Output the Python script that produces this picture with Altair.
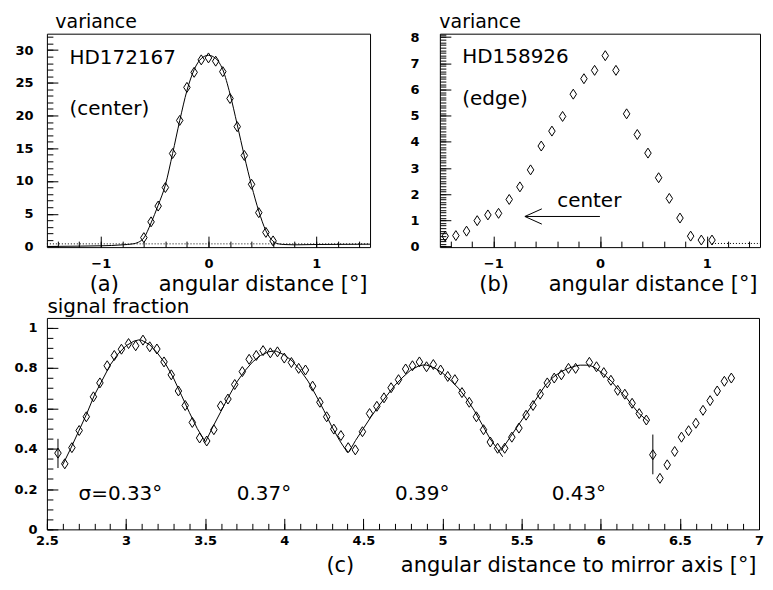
import altair as alt
import pandas as pd

FONT = "DejaVu Sans"

# ---------------- panel (a): HD172167 ----------------
a_x = [-0.600, -0.533, -0.467, -0.400, -0.333, -0.267, -0.200, -0.133, -0.067, 0.000,
       0.067, 0.133, 0.200, 0.267, 0.333, 0.400, 0.467, 0.533, 0.600]
a_y = [1.35, 3.76, 6.17, 9.0, 14.2, 19.25, 24.3, 26.6, 28.5, 28.8,
       28.3, 26.7, 22.6, 18.3, 13.9, 9.5, 5.16, 2.15, 0.85]
a_fit_x = [-1.5, -1.2, -1.0, -0.9, -0.8, -0.7, -0.65, -0.6, -0.533, -0.467, -0.4, -0.333,
           -0.267, -0.2, -0.133, -0.067, 0.0, 0.067, 0.133, 0.2, 0.267, 0.333, 0.4, 0.467,
           0.533, 0.6, 0.65, 0.7, 0.8, 1.0, 1.5]
a_fit_y = [0.0, 0.05, 0.1, 0.15, 0.25, 0.4, 0.65, 1.3, 3.6, 6.3, 9.4, 14.2,
           19.2, 23.8, 27.0, 28.7, 29.2, 28.7, 27.0, 23.3, 18.6, 13.8, 9.3, 5.4,
           2.4, 0.8, 0.4, 0.3, 0.25, 0.3, 0.35]
a_dot_x = [-1.5, 1.5]
a_dot_y = [0.4, 0.4]
a_txt = ["HD172167", "(center)"]
a_txt_x = [-1.29, -1.29]
a_txt_y = [27.8, 20.05]

# ---------------- panel (b): HD158926 ----------------
b_x = [-1.45, -1.35, -1.25, -1.15, -1.05, -0.95, -0.85, -0.75, -0.65, -0.55, -0.45, -0.35, -0.25,
       -0.15, -0.05, 0.05, 0.15, 0.25, 0.35, 0.45, 0.55, 0.65, 0.75, 0.85, 0.95, 1.05]
b_y = [0.40, 0.42, 0.59, 0.99, 1.21, 1.27, 1.80, 2.28, 2.93, 3.84, 4.41, 4.97, 5.82,
       6.41, 6.73, 7.29, 6.73, 5.07, 4.28, 3.57, 2.63, 1.84, 1.09, 0.40, 0.25, 0.25]
b_dot_x = [1.05, 1.5]
b_dot_y = [0.12, 0.12]
b_txt = ["HD158926", "(edge)"]
b_txt_x = [-1.29, -1.29]
b_txt_y = [7.0, 5.41]
b_center_x = [-0.10]
b_center_y = [1.53]
b_arrow_x = [-0.70, 0.0]
b_arrow_y = [1.15, 1.15]
b_head_x = [-0.624]
b_head_y = [1.15]

# ---------------- panel (c): signal fraction ----------------
c_x = [2.570, 2.613, 2.658, 2.704, 2.749, 2.794, 2.835, 2.881, 2.926, 2.971,
       3.016, 3.061, 3.107, 3.150, 3.195, 3.240, 3.286, 3.331, 3.374, 3.419,
       3.465, 3.510, 3.555, 3.598, 3.644, 3.687, 3.735, 3.778, 3.823, 3.866,
       3.912, 3.957, 4.000, 4.045, 4.091, 4.134, 4.179, 4.225, 4.268, 4.313,
       4.358, 4.404, 4.449, 4.494, 4.539, 4.585, 4.630, 4.675, 4.722, 4.767,
       4.810, 4.854, 4.899, 4.942, 4.988, 5.033, 5.078, 5.123, 5.169, 5.214,
       5.259, 5.302, 5.348, 5.393, 5.438, 5.483, 5.528, 5.572, 5.617, 5.662,
       5.706, 5.751, 5.796, 5.841, 5.928, 5.973, 6.019, 6.064, 6.107, 6.152,
       6.198, 6.243, 6.288, 6.329, 6.374, 6.420, 6.467, 6.510, 6.555, 6.601,
       6.646, 6.691, 6.736, 6.781, 6.825]
c_y = [0.378, 0.325, 0.405, 0.490, 0.558, 0.657, 0.726, 0.811, 0.862, 0.893,
       0.921, 0.910, 0.938, 0.905, 0.894, 0.830, 0.766, 0.686, 0.614, 0.530,
       0.453, 0.438, 0.494, 0.612, 0.646, 0.718, 0.782, 0.843, 0.862, 0.886,
       0.875, 0.880, 0.849, 0.827, 0.798, 0.790, 0.710, 0.630, 0.558, 0.497,
       0.465, 0.405, 0.394, 0.484, 0.574, 0.610, 0.652, 0.702, 0.742, 0.795,
       0.811, 0.830, 0.806, 0.817, 0.790, 0.758, 0.742, 0.678, 0.630, 0.558,
       0.494, 0.433, 0.402, 0.402, 0.457, 0.502, 0.566, 0.614, 0.670, 0.726,
       0.750, 0.766, 0.798, 0.798, 0.828, 0.806, 0.777, 0.739, 0.689, 0.670,
       0.625, 0.574, 0.542, 0.370, 0.253, 0.320, 0.386, 0.457, 0.489, 0.526,
       0.590, 0.638, 0.686, 0.734, 0.750]
c_err_x = [2.570, 6.329]
c_err_lo = [0.304, 0.273]
c_err_hi = [0.449, 0.470]

arc1_x = [2.60, 2.65, 2.70, 2.75, 2.80, 2.85, 2.90, 2.95, 3.00, 3.05, 3.08, 3.10, 3.15, 3.20,
          3.25, 3.30, 3.35, 3.40, 3.45, 3.50]
arc1_y = [0.32, 0.40, 0.485, 0.57, 0.665, 0.74, 0.815, 0.87, 0.91, 0.933, 0.939, 0.937, 0.915, 0.872,
          0.82, 0.75, 0.665, 0.58, 0.50, 0.435]
arc2_x = [3.50, 3.55, 3.60, 3.65, 3.70, 3.75, 3.80, 3.85, 3.90, 3.93, 3.95, 4.00, 4.05, 4.10,
          4.15, 4.20, 4.25, 4.30, 4.35, 4.40]
arc2_y = [0.43, 0.51, 0.585, 0.66, 0.73, 0.785, 0.83, 0.862, 0.88, 0.884, 0.883, 0.865, 0.835, 0.79,
          0.735, 0.665, 0.59, 0.51, 0.44, 0.38]
arc3_x = [4.41, 4.45, 4.50, 4.55, 4.60, 4.65, 4.70, 4.75, 4.80, 4.85, 4.88, 4.90, 4.95, 5.00,
          5.05, 5.10, 5.15, 5.20, 5.25, 5.30, 5.35, 5.38]
arc3_y = [0.385, 0.44, 0.50, 0.56, 0.615, 0.665, 0.715, 0.755, 0.79, 0.81, 0.815, 0.814, 0.80, 0.775,
          0.74, 0.70, 0.65, 0.59, 0.52, 0.45, 0.395, 0.36]
arc4_x = [5.37, 5.43, 5.48, 5.53, 5.57, 5.61, 5.65, 5.70, 5.75, 5.80, 5.85, 5.87, 5.93, 5.97,
          6.02, 6.07, 6.11, 6.16, 6.20, 6.24, 6.30]
arc4_y = [0.39, 0.46, 0.518, 0.574, 0.62, 0.668, 0.714, 0.755, 0.782, 0.80, 0.812, 0.814, 0.814, 0.798,
          0.768, 0.732, 0.694, 0.654, 0.614, 0.575, 0.535]
c_sig_txt = ["σ=0.33°", "0.37°", "0.39°", "0.43°"]
c_sig_x = [2.70, 3.70, 4.70, 5.69]
c_sig_y = [0.144, 0.144, 0.144, 0.144]

# ---------------- ticks ----------------
ab_x_major = [-1, 0, 1]
ab_x_minor = [-1.4, -1.2, -1.0, -0.8, -0.6, -0.4, -0.2, 0.0, 0.2, 0.4, 0.6, 0.8, 1.0, 1.2, 1.4]
a_y_major = [0, 5, 10, 15, 20, 25, 30]
a_y_minor = list(range(0, 33))
b_y_major = [0, 1, 2, 3, 4, 5, 6, 7, 8]
b_y_minor = [round(v * 0.1, 1) for v in range(0, 82)]
c_x_major = [2.5, 3, 3.5, 4, 4.5, 5, 5.5, 6, 6.5, 7]
c_x_minor = [round(2.5 + v * 0.1, 1) for v in range(0, 46)]
c_y_major = [0, 0.2, 0.4, 0.6, 0.8, 1.0]
c_y_minor = [round(v * 0.05, 2) for v in range(0, 21)]

DIAMOND = "M0,-1L0.65,0L0,1L-0.65,0Z"
ARROWHEAD = "M1,-0.9L-1,0L1,0.9"
NB = "\u00a0"

MAJ = 11
MIN = 6
LBL = 13


def df(x, y, **extra):
    d = {"x": x, "y": y}
    d.update(extra)
    return pd.DataFrame(d)


def sx(dom):
    return alt.Scale(domain=dom, nice=False, zero=False)


def label_axis_x(values, pad, title, w, ty):
    return alt.Axis(orient="bottom", values=values, ticks=False, tickSize=0, domain=False, grid=False,
                    format="~g", labelPadding=pad, labelFont=FONT, labelFontSize=LBL,
                    labelFontWeight="bold", labelColor="black", labelFlush=False, labelOverlap=False,
                    title=title, titleFont=FONT, titleFontSize=21, titleFontWeight="normal",
                    titleColor="black", titleAlign="right", titleBaseline="alphabetic",
                    titleX=w - 3, titleY=ty, titleAngle=0)


def label_axis_y(values, pad, title, tx, ty, fs):
    return alt.Axis(orient="left", values=values, ticks=False, tickSize=0, domain=False, grid=False,
                    format="~g", labelPadding=pad, labelFont=FONT, labelFontSize=LBL,
                    labelFontWeight="bold", labelColor="black", labelFlush=False, labelOverlap=False,
                    title=title, titleFont=FONT, titleFontSize=fs, titleFontWeight="normal",
                    titleColor="black", titleAlign="left", titleBaseline="alphabetic",
                    titleX=tx, titleY=ty, titleAngle=0)


def tick_axis(orient, values, size):
    return alt.Axis(orient=orient, values=values, labels=False, domain=False, grid=False,
                    ticks=True, tickSize=size, offset=-size, tickColor="black", tickWidth=1)


def enc(xdom, ydom, xaxis=None, yaxis=None):
    if xaxis is None:
        ex = alt.X("x:Q", scale=sx(xdom), axis=None)
    else:
        ex = alt.X("x:Q", scale=sx(xdom), axis=xaxis, title=None)
    if yaxis is None:
        ey = alt.Y("y:Q", scale=sx(ydom), axis=None)
    else:
        ey = alt.Y("y:Q", scale=sx(ydom), axis=yaxis, title=None)
    return ex, ey


def points_layer(data, xdom, ydom, xaxis=None, yaxis=None):
    ex, ey = enc(xdom, ydom, xaxis, yaxis)
    return alt.Chart(data).mark_point(shape=DIAMOND, size=100, filled=False, color="black",
                                      strokeWidth=1, opacity=1).encode(x=ex, y=ey)


def text_layer(data, xdom, ydom, align="left", size=20):
    ex, ey = enc(xdom, ydom)
    return alt.Chart(data).mark_text(align=align, baseline="alphabetic", font=FONT, fontSize=size,
                                     color="black").encode(x=ex, y=ey, text="t:N")


# ---------------- build panel (a) ----------------
AXD = [-1.5, 1.5]
A_YD = [-0.1, 32.5]
WA, HA = 324, 214

ex, ey = enc(AXD, A_YD,
             label_axis_x(ab_x_major, 10, "(a)" + NB * 6 + "angular distance [°]", WA, 43),
             label_axis_y(a_y_major, 14, "variance", 8, -6, 19))
a_fit = alt.Chart(df(a_fit_x, a_fit_y)).mark_line(color="black", strokeWidth=1,
                                                   interpolate="monotone").encode(x=ex, y=ey)
a_pts = points_layer(df(a_x, a_y), AXD, A_YD,
                     tick_axis("bottom", ab_x_major, MAJ), tick_axis("left", a_y_major, MAJ))
ex, ey = enc(AXD, A_YD, tick_axis("bottom", ab_x_minor, MIN), tick_axis("left", a_y_minor, MIN))
a_dot = alt.Chart(df(a_dot_x, a_dot_y)).mark_line(color="black", strokeWidth=1,
                                                   strokeDash=[1, 2]).encode(x=ex, y=ey)
a_text = text_layer(df(a_txt_x, a_txt_y, t=a_txt), AXD, A_YD)
panel_a = alt.layer(a_fit, a_pts, a_dot, a_text).properties(width=WA, height=HA).resolve_axis(
    x="independent", y="independent")

# ---------------- build panel (b) ----------------
B_YD = [-0.02, 8.13]
WB, HB = 321, 214
b_pts = points_layer(df(b_x, b_y), AXD, B_YD,
                     label_axis_x(ab_x_major, 10, "(b)" + NB * 6 + "angular distance [°]", WB, 43),
                     label_axis_y(b_y_major, 21, "variance", -1, -6, 19))
ex, ey = enc(AXD, B_YD, tick_axis("bottom", ab_x_major, MAJ), tick_axis("left", b_y_major, MAJ))
b_dot = alt.Chart(df(b_dot_x, b_dot_y)).mark_line(color="black", strokeWidth=1,
                                                   strokeDash=[1, 2]).encode(x=ex, y=ey)
ex, ey = enc(AXD, B_YD, tick_axis("bottom", ab_x_minor, MIN), tick_axis("left", b_y_minor, MIN))
b_arrow = alt.Chart(df(b_arrow_x, b_arrow_y)).mark_line(color="black", strokeWidth=1).encode(x=ex, y=ey)
ex, ey = enc(AXD, B_YD)
b_head = alt.Chart(df(b_head_x, b_head_y)).mark_point(shape=ARROWHEAD, size=289, filled=False,
                                                       color="black", strokeWidth=1,
                                                       opacity=1).encode(x=ex, y=ey)
b_text = text_layer(df(b_txt_x, b_txt_y, t=b_txt), AXD, B_YD)
b_ctext = text_layer(df(b_center_x, b_center_y, t=["center"]), AXD, B_YD, align="center")
panel_b = alt.layer(b_pts, b_dot, b_arrow, b_head, b_text, b_ctext).properties(
    width=WB, height=HB).resolve_axis(x="independent", y="independent")

# ---------------- build panel (c) ----------------
C_XD = [2.5, 7.0]
C_YD = [0.0, 1.048]
WC, HC = 714, 212
arcs = pd.concat([
    df(arc1_x, arc1_y, arc="1"), df(arc2_x, arc2_y, arc="2"),
    df(arc3_x, arc3_y, arc="3"), df(arc4_x, arc4_y, arc="4")])
ex, ey = enc(C_XD, C_YD,
             label_axis_x(c_x_major, 5, "(c)" + NB * 7 + "angular distance to mirror axis [°]", WC, 42),
             label_axis_y(c_y_major, 10, "signal fraction", 0, -5, 20))
c_fit = alt.Chart(arcs).mark_line(color="black", strokeWidth=1).encode(x=ex, y=ey, detail="arc:N")
c_pts = points_layer(df(c_x, c_y), C_XD, C_YD,
                     tick_axis("bottom", c_x_major, MAJ), tick_axis("left", c_y_major, MAJ))
ex, ey = enc(C_XD, C_YD, tick_axis("bottom", c_x_minor, MIN), tick_axis("left", c_y_minor, MIN))
c_err = alt.Chart(pd.DataFrame({"x": c_err_x, "y": c_err_lo, "y2": c_err_hi})).mark_rule(
    color="black", strokeWidth=1).encode(x=ex, y=ey, y2="y2:Q")
c_text = text_layer(df(c_sig_x, c_sig_y, t=c_sig_txt), C_XD, C_YD)
panel_c = alt.layer(c_fit, c_pts, c_err, c_text).properties(width=WC, height=HC).resolve_axis(
    x="independent", y="independent")

top = alt.hconcat(panel_a, panel_b, spacing=70, bounds="flush")
chart = alt.vconcat(top, panel_c, spacing=1).properties(
    padding={"left": 5, "top": 3, "right": 0, "bottom": 1},
    background="white",
).configure_view(stroke="black", strokeWidth=1)

chart.save("out.html", embed_options={"renderer": "svg", "actions": False})
